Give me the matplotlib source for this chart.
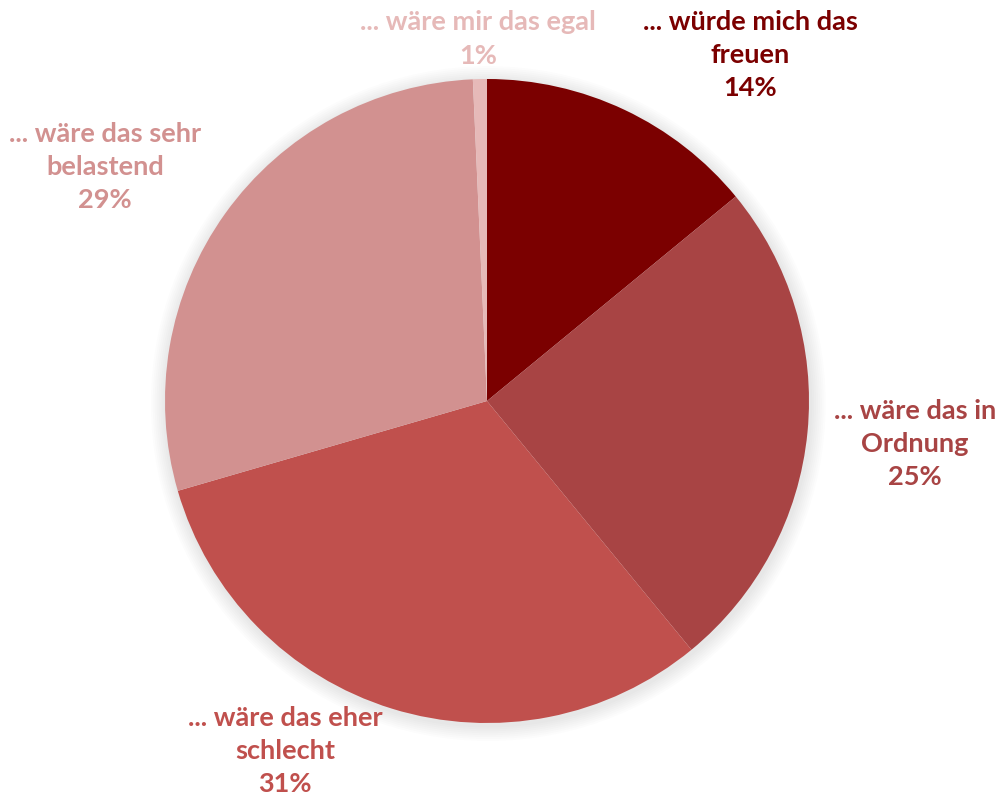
import matplotlib.pyplot as plt
import matplotlib.patches as mpatches

# data (clockwise from 12 o'clock)
answers = ["... würde mich das\nfreuen", "... wäre das in\nOrdnung",
           "... wäre das eher\nschlecht", "... wäre das sehr\nbelastend",
           "... wäre mir das egal"]
shares = [14.05, 25.0, 31.45, 28.8, 0.7]
pct_labels = ["14%", "25%", "31%", "29%", "1%"]
colors = ["#7B0000", "#A84444", "#C0504D", "#D29190", "#E6B9B8"]

# label centres in pixel coords of a 1000x794 image
label_px = [(750, 55), (915, 444), (285, 751), (105, 167), (478, 39)]

W, H = 1000, 794
cx, cy, r = 487, 401, 322

fig = plt.figure(figsize=(W / 100, H / 100), dpi=100)
ax = fig.add_axes([(cx - r) / W, (H - cy - r) / H, 2 * r / W, 2 * r / H])

# soft shadow behind the pie
for i in range(8):
    ax.add_patch(mpatches.Circle((0.004, -0.008), 1.0 + 0.006 * (8 - i),
                                 color="black", alpha=0.012, lw=0, zorder=0,
                                 clip_on=False))

ax.pie(shares, colors=colors, startangle=90, counterclock=False,
       radius=1.0, center=(0, 0), frame=True,
       wedgeprops=dict(linewidth=0, zorder=2))
ax.set_xlim(-1, 1)
ax.set_ylim(-1, 1)
ax.axis("off")

for name, pct, col, (px, py) in zip(answers, pct_labels, colors, label_px):
    fig.text(px / W, 1 - py / H, f"{name}\n{pct}", ha="center", va="center",
             color=col, fontsize=19.5, fontweight="bold", family="Lato",
             linespacing=1.45)

fig.savefig("out.png", dpi=100)
